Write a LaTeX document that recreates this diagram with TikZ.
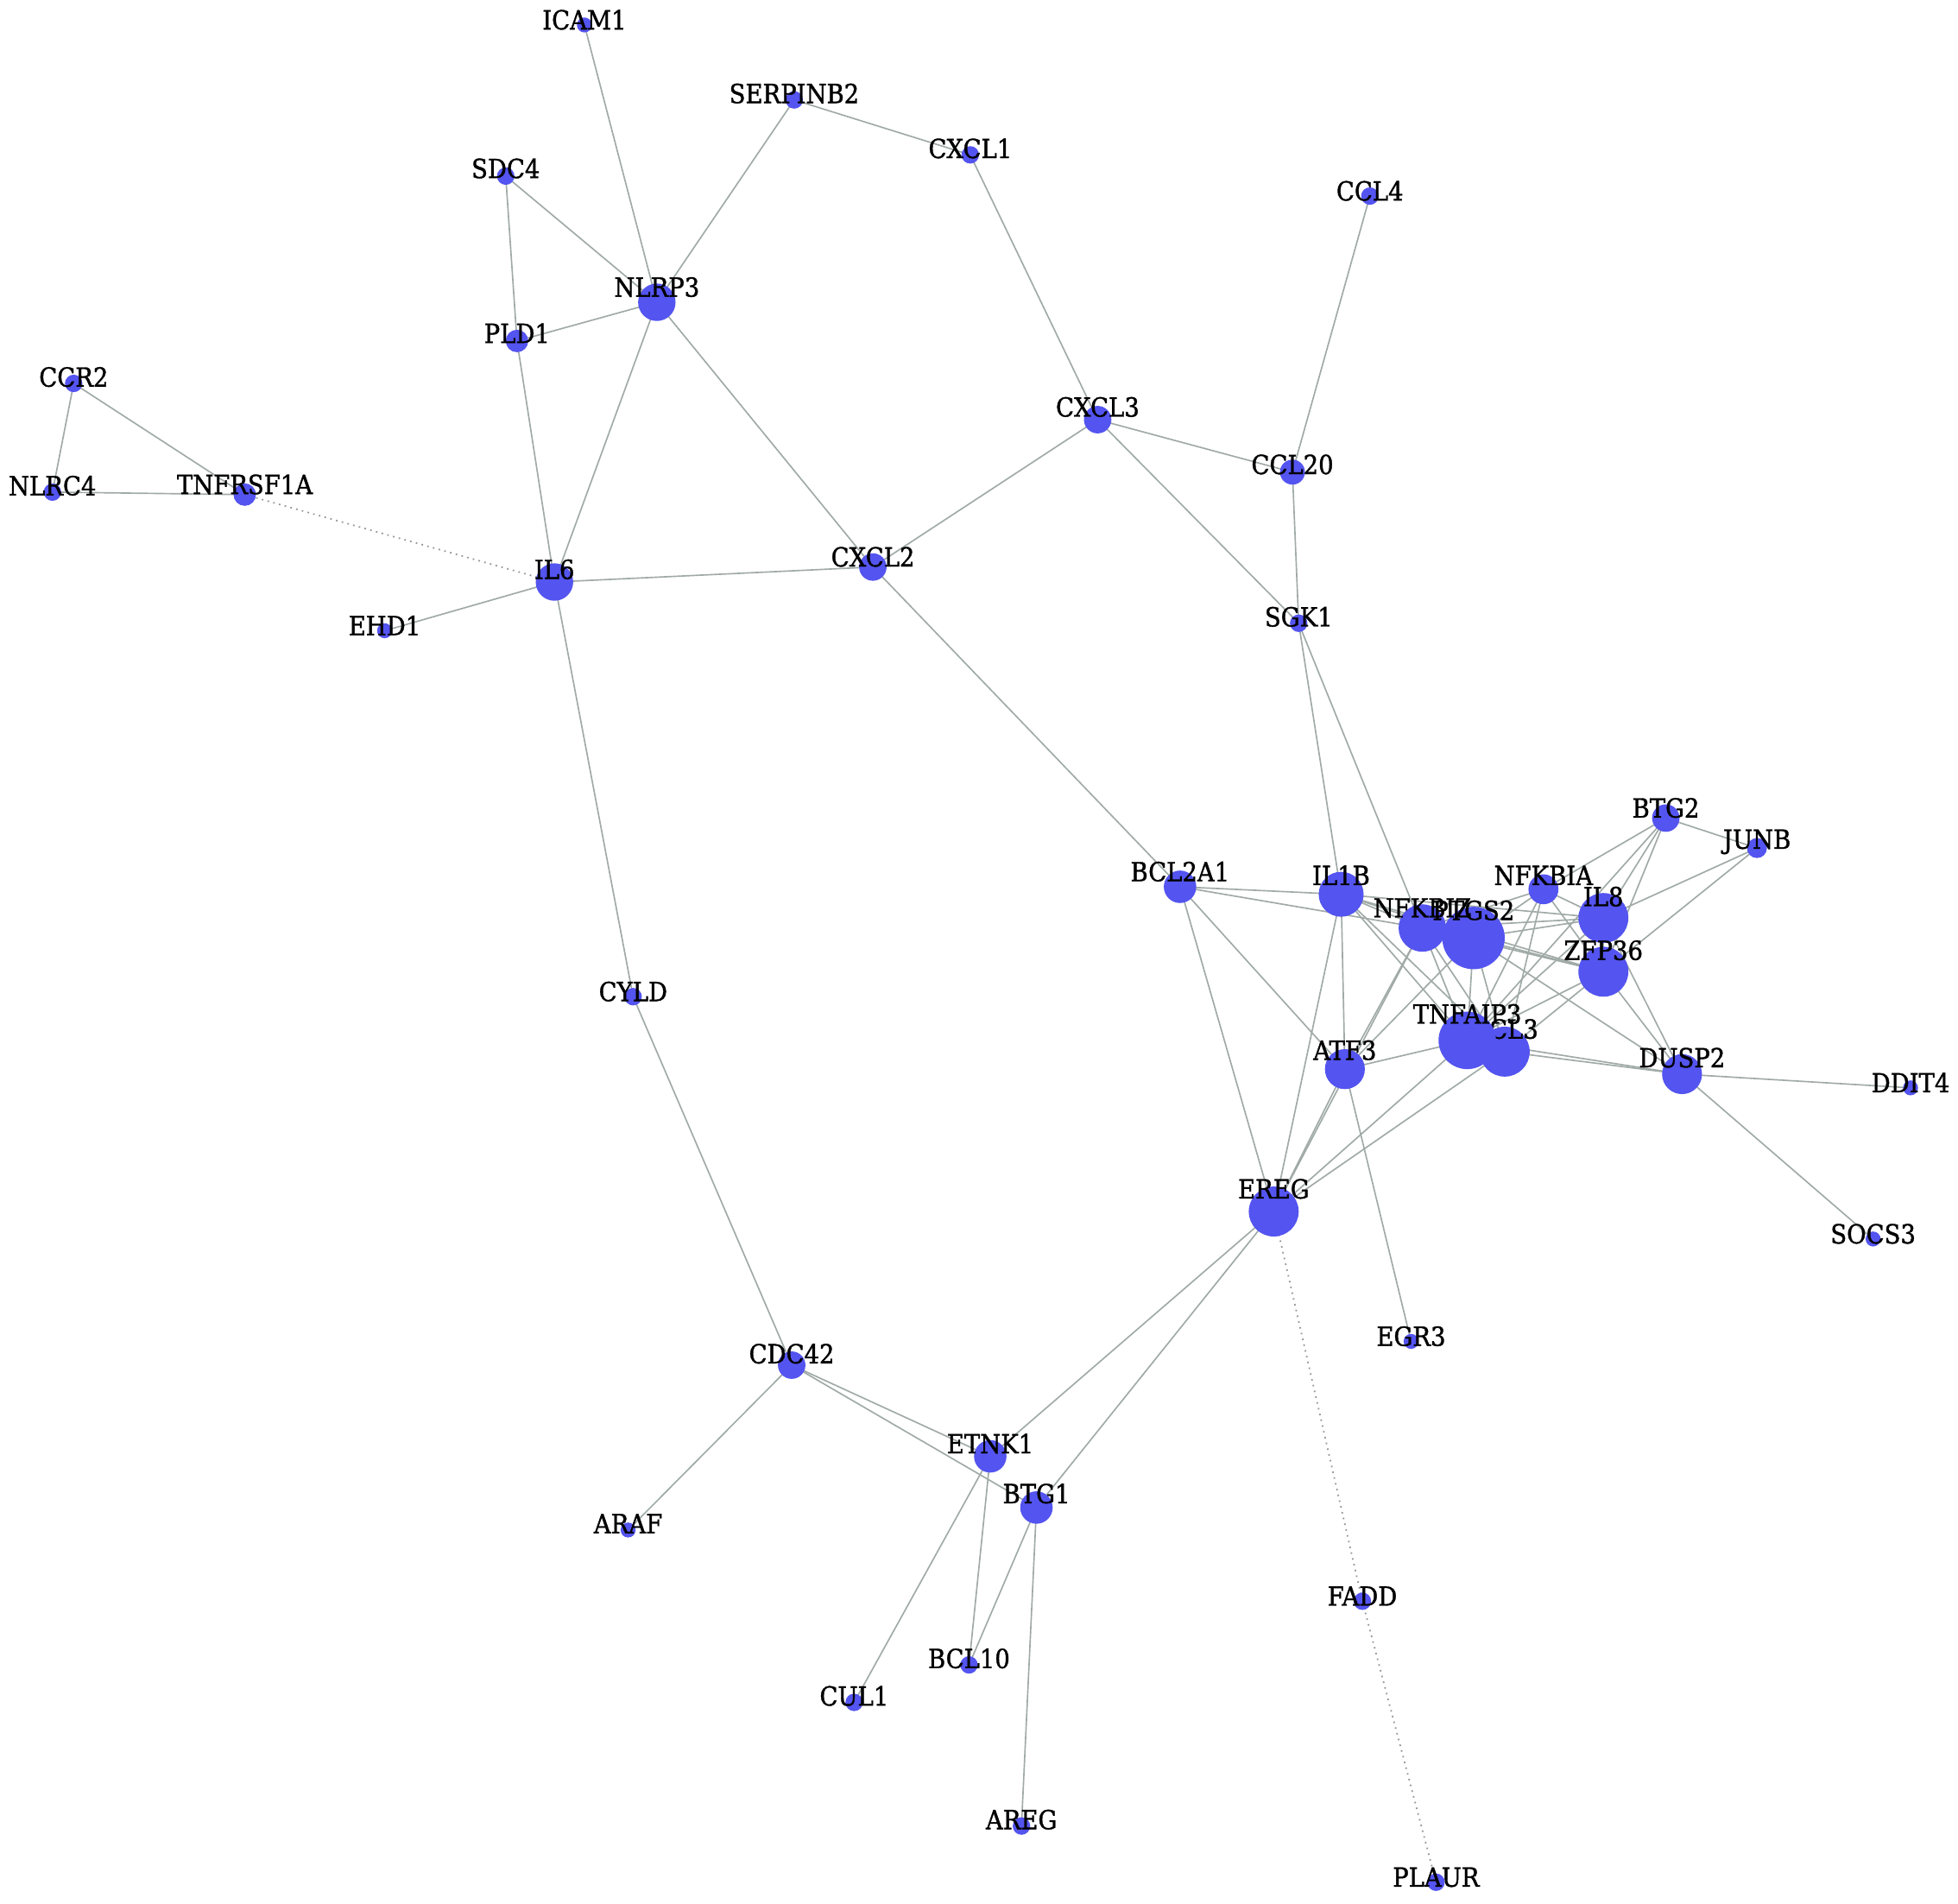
\documentclass[tikz,border=0pt]{standalone}
\usepackage{fontspec}
\setmainfont{DejaVu Serif}[FakeStretch=0.9, FakeBold=1.2]
\usetikzlibrary{backgrounds}
\definecolor{nodeblue}{RGB}{84,84,240}
\definecolor{edgegray}{RGB}{160,170,166}
\definecolor{dotgray}{RGB}{150,150,150}
\tikzset{
  gnode/.style={circle, fill=nodeblue, inner sep=0pt, draw=none},
  glabel/.style={inner sep=0pt, text height=8.6pt, text depth=0pt, font=\fontsize{12}{13}\selectfont},
  gedge/.style={draw=edgegray, line width=0.65pt},
  gdot/.style={draw=dotgray, dotted, line width=0.7pt}
}
\newcommand\gn[4]{\node[gnode, minimum size={#4*0.04cm}] (#1) at (#2,#3) {};}
\newcommand\gl[3]{\node[glabel] (#1-l) at ([yshift={(#2)*0.02cm}]#1.center) {#3};}
\begin{document}
\begin{tikzpicture}[x=0.02cm, y=-0.02cm]
\useasboundingbox (0,0) rectangle (1568,1524);
% nodes (circles)
\gn{ICAM1}{468}{20}{6}
\gn{SERPINB2}{636}{80}{7}
\gn{CXCL1}{777}{124}{7}
\gn{SDC4}{405}{141}{7}
\gn{CCL4}{1097}{157}{7}
\gn{NLRP3}{526}{242}{15}
\gn{PLD1}{414}{273}{9}
\gn{CCR2}{59}{307}{7}
\gn{CXCL3}{879}{336}{11}
\gn{CCL20}{1035}{378}{10}
\gn{NLRC4}{42}{394}{7}
\gn{TNFRSF1A}{196}{396}{9}
\gn{CXCL2}{699}{454}{11}
\gn{IL6}{444}{466}{15}
\gn{EHD1}{308}{505}{6}
\gn{SGK1}{1040}{499}{7}
\gn{BTG2}{1334}{655}{11}
\gn{JUNB}{1407}{679}{8}
\gn{NFKBIA}{1236}{712}{12}
\gn{BCL2A1}{945}{710}{13}
\gn{IL1B}{1074}{716}{18}
\gn{IL8}{1284}{735}{20}
\gn{NFKBIZ}{1139}{743}{19}
\gn{PTGS2}{1180}{751}{25}
\gn{ZFP36}{1284}{778}{20}
\gn{CYLD}{507}{798}{7}
\gn{CCL3}{1205}{842}{20}
\gn{ATF3}{1077}{856}{16}
\gn{DUSP2}{1347}{860}{16}
\gn{DDIT4}{1530}{871}{6}
\gn{EREG}{1020}{970}{20}
\gn{SOCS3}{1500}{992}{6}
\gn{EGR3}{1130}{1074}{6}
\gn{CDC42}{634}{1093}{11}
\gn{ETNK1}{793}{1166}{13}
\gn{BTG1}{830}{1207}{13}
\gn{ARAF}{503}{1225}{6}
\gn{FADD}{1091}{1282}{7}
\gn{BCL10}{776}{1333}{7}
\gn{CUL1}{684}{1363}{7}
\gn{AREG}{818}{1462}{7}
\gn{PLAUR}{1150}{1507}{7}
\gl{CCL3}{18}{CCL3}
\gn{TNFAIP3}{1175}{833}{23}
% edges
\begin{scope}[on background layer]
\fill[white] (0,0) rectangle (1568,1524);
\foreach \a/\b in {ICAM1/NLRP3, SERPINB2/NLRP3, SERPINB2/CXCL1, SDC4/NLRP3, SDC4/PLD1,
  PLD1/NLRP3, PLD1/IL6, NLRP3/IL6, NLRP3/CXCL2, CCR2/NLRC4, CCR2/TNFRSF1A, NLRC4/TNFRSF1A,
  EHD1/IL6, IL6/CXCL2, IL6/CYLD, CXCL1/CXCL3, CXCL3/CXCL2, CXCL3/CCL20, CXCL3/SGK1,
  CCL4/CCL20, CCL20/SGK1, CXCL2/BCL2A1, SGK1/IL1B, SGK1/NFKBIZ,
  BCL2A1/IL1B, BCL2A1/NFKBIZ, BCL2A1/ATF3, BCL2A1/EREG,
  IL1B/ATF3, IL1B/EREG, IL1B/NFKBIZ, IL1B/PTGS2, IL1B/IL8, IL1B/TNFAIP3, IL1B/CCL3, IL1B/ZFP36,
  NFKBIZ/PTGS2, NFKBIZ/NFKBIA, NFKBIZ/IL8, NFKBIZ/TNFAIP3, NFKBIZ/CCL3, NFKBIZ/ATF3, NFKBIZ/EREG, NFKBIZ/ZFP36,
  PTGS2/NFKBIA, PTGS2/IL8, PTGS2/ZFP36, PTGS2/TNFAIP3, PTGS2/CCL3, PTGS2/DUSP2, PTGS2/ATF3,
  NFKBIA/IL8, NFKBIA/BTG2, NFKBIA/TNFAIP3, NFKBIA/CCL3, NFKBIA/ZFP36,
  IL8/BTG2, IL8/JUNB, IL8/ZFP36, IL8/TNFAIP3, IL8/DUSP2,
  ZFP36/BTG2, ZFP36/JUNB, ZFP36/DUSP2, ZFP36/TNFAIP3, ZFP36/CCL3,
  BTG2/JUNB, BTG2/TNFAIP3,
  TNFAIP3/CCL3, TNFAIP3/ATF3, TNFAIP3/EREG, TNFAIP3/DUSP2, CCL3/EREG, CCL3/DUSP2,
  ATF3/EREG, ATF3/EGR3, DUSP2/DDIT4, DUSP2/SOCS3,
  CYLD/CDC42, CDC42/ETNK1, CDC42/BTG1, CDC42/ARAF, ETNK1/EREG, BTG1/EREG,
  ETNK1/CUL1, ETNK1/BCL10, BTG1/BCL10, BTG1/AREG}
  \draw[gedge] (\a.center) -- (\b.center);
\foreach \a/\b in {TNFRSF1A/IL6, EREG/FADD, FADD/PLAUR}
  \draw[gdot] (\a.center) -- (\b.center);
\end{scope}
% labels
\gl{ICAM1}{4}{ICAM1}
\gl{SERPINB2}{5}{SERPINB2}
\gl{CXCL1}{5}{CXCL1}
\gl{SDC4}{6}{SDC4}
\gl{CCL4}{4}{CCL4}
\gl{NLRP3}{12}{NLRP3}
\gl{PLD1}{6}{PLD1}
\gl{CCR2}{5}{CCR2}
\gl{CXCL3}{10}{CXCL3}
\gl{CCL20}{6}{CCL20}
\gl{NLRC4}{5}{NLRC4}
\gl{TNFRSF1A}{8}{TNFRSF1A}
\gl{CXCL2}{8}{CXCL2}
\gl{IL6}{10}{IL6}
\gl{EHD1}{4}{EHD1}
\gl{SGK1}{5}{SGK1}
\gl{BTG2}{8}{BTG2}
\gl{JUNB}{7}{JUNB}
\gl{NFKBIA}{11}{NFKBIA}
\gl{BCL2A1}{12}{BCL2A1}
\gl{IL1B}{15}{IL1B}
\gl{IL8}{17}{IL8}
\gl{NFKBIZ}{16}{NFKBIZ}
\gl{PTGS2}{22}{PTGS2}
\gl{ZFP36}{17}{ZFP36}
\gl{CYLD}{4}{CYLD}
\gl{TNFAIP3}{21}{TNFAIP3}
\gl{ATF3}{15}{ATF3}
\gl{DUSP2}{13}{DUSP2}
\gl{DDIT4}{4}{DDIT4}
\gl{EREG}{18}{EREG}
\gl{SOCS3}{4}{SOCS3}
\gl{EGR3}{4}{EGR3}
\gl{CDC42}{9}{CDC42}
\gl{ETNK1}{10}{ETNK1}
\gl{BTG1}{11}{BTG1}
\gl{ARAF}{5}{ARAF}
\gl{FADD}{4}{FADD}
\gl{BCL10}{5}{BCL10}
\gl{CUL1}{5}{CUL1}
\gl{AREG}{5}{AREG}
\gl{PLAUR}{4}{PLAUR}
\end{tikzpicture}
\end{document}
